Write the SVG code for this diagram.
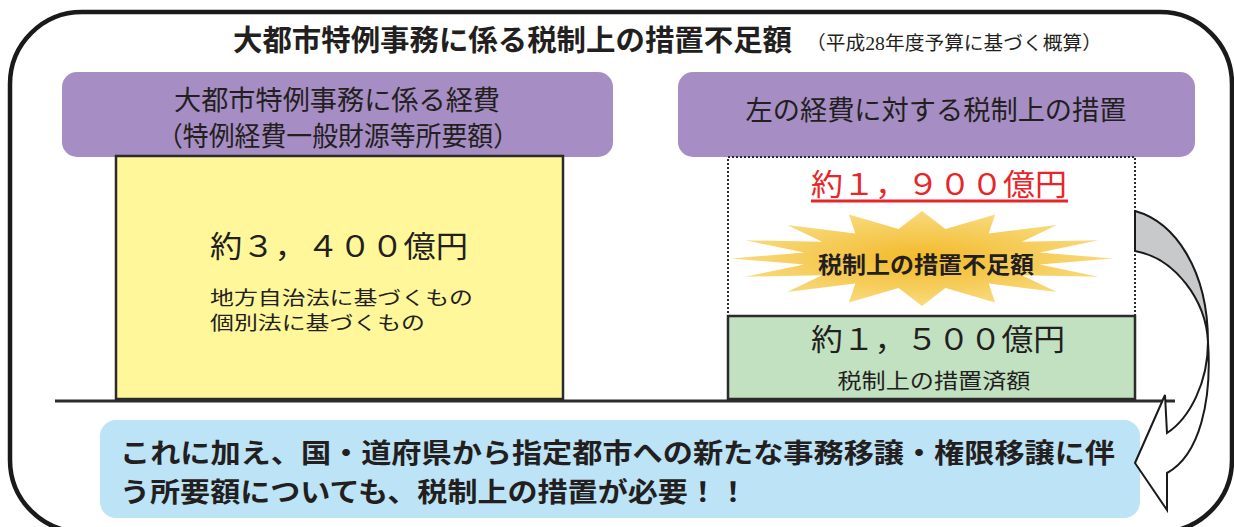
<svg xmlns="http://www.w3.org/2000/svg" width="1234" height="527" viewBox="0 0 1234 527">
<style>
  text { font-family: "Noto Sans CJK JP", "Noto Sans", sans-serif; fill: #231f20; }
  .hdr { fill: #a68dc4; }
  .hdrtxt { font-size: 27px; text-anchor: middle; }
  .box { stroke: #2b2b2b; stroke-width: 2.5; }
  .amt { font-size: 30px; }
  .bold { font-weight: 700; }
</style>
<defs>
  <radialGradient id="burst" cx="0.5" cy="0.5" r="0.5">
    <stop offset="0" stop-color="#f3b929"/>
    <stop offset="1" stop-color="#f8da7c"/>
  </radialGradient>
</defs>

<rect id="frame" x="10" y="12" width="1222" height="520" rx="72" ry="72" fill="#ffffff" stroke="#1a1a1a" stroke-width="4.5"/>

<g id="title">
  <text x="233" y="51" font-size="29" class="bold" textLength="559" lengthAdjust="spacingAndGlyphs">大都市特例事務に係る税制上の措置不足額</text>
  <text x="806" y="50" font-size="19" style="font-family:'Liberation Serif','Noto Sans CJK JP',serif" textLength="296" lengthAdjust="spacingAndGlyphs">（平成28年度予算に基づく概算）</text>
</g>

<g id="header-left">
  <rect class="hdr" x="62" y="72" width="551" height="85" rx="15"/>
  <text class="hdrtxt" x="337" y="110" textLength="326" lengthAdjust="spacingAndGlyphs">大都市特例事務に係る経費</text>
  <text class="hdrtxt" x="338" y="146" textLength="362" lengthAdjust="spacingAndGlyphs">（特例経費一般財源等所要額）</text>
</g>

<g id="header-right">
  <rect class="hdr" x="678" y="72" width="517" height="85" rx="15"/>
  <text class="hdrtxt" x="936" y="120" textLength="381" lengthAdjust="spacingAndGlyphs">左の経費に対する税制上の措置</text>
</g>

<g id="cost-box">
  <rect class="box" x="116" y="156" width="447" height="243" fill="#fff799"/>
  <text class="amt" x="210" y="257" textLength="258" lengthAdjust="spacingAndGlyphs">約３，４００億円</text>
  <text x="210" y="305" font-size="19" textLength="263" lengthAdjust="spacingAndGlyphs">地方自治法に基づくもの</text>
  <text x="210" y="330" font-size="19" textLength="215" lengthAdjust="spacingAndGlyphs">個別法に基づくもの</text>
</g>

<g id="shortfall-box">
  <rect x="728" y="157" width="407" height="159" fill="#ffffff" stroke="#2b2b2b" stroke-width="2" stroke-dasharray="2 2"/>
  <text class="amt" x="811" y="195" style="fill:#e8262a" textLength="256" lengthAdjust="spacingAndGlyphs">約１，９００億円</text>
  <rect x="811" y="199.5" width="257" height="3" fill="#e8262a"/>
  <polygon fill="url(#burst)" points="922,211 945.4,229.1 995.1,214.6 988.7,233.6 1057,224.9 1021.8,241.8 1098.5,240.3 1039.7,252.6 1113,258.5 1039.7,264.4 1098.5,276.7 1021.8,275.2 1057,292.1 988.7,283.4 995.1,302.4 945.4,287.9 922,306 898.6,287.9 848.9,302.4 855.3,283.4 787,292.1 822.2,275.2 745.5,276.7 804.3,264.4 731,258.5 804.3,252.6 745.5,240.3 822.2,241.8 787,224.9 855.3,233.6 848.9,214.6 898.6,229.1"/>
  <text x="926" y="273" font-size="23" class="bold" text-anchor="middle" textLength="216" lengthAdjust="spacingAndGlyphs">税制上の措置不足額</text>
</g>

<g id="done-box">
  <rect class="box" x="728" y="316" width="407" height="83" fill="#c1e1c1"/>
  <text class="amt" x="811" y="350" textLength="254" lengthAdjust="spacingAndGlyphs">約１，５００億円</text>
  <text x="934" y="388" font-size="21" text-anchor="middle" textLength="193" lengthAdjust="spacingAndGlyphs">税制上の措置済額</text>
</g>

<g id="note">
  <rect x="100" y="420" width="1040" height="98" rx="16" fill="#bde3f6"/>
  <text x="120" y="463" font-size="27" class="bold" textLength="995" lengthAdjust="spacingAndGlyphs">これに加え、国・道府県から指定都市への新たな事務移譲・権限移譲に伴</text>
  <text x="120" y="502" font-size="27" class="bold" textLength="628" lengthAdjust="spacingAndGlyphs">う所要額についても、税制上の措置が必要！！</text>
</g>

<g id="connectors">
  <line x1="55" y1="401" x2="1175" y2="401" stroke="#2b2b2b" stroke-width="3"/>
  <path d="M1135,211 C1175,222 1208,270 1208,342 C1206,300 1175,258 1135,251 Z" fill="#c8c9cb" stroke="#1a1a1a" stroke-width="2" stroke-linejoin="round"/>
  <path d="M1208,342 C1208,382 1190,418 1167,433 L1165,395 L1135,463 L1167,510 L1167,473 C1200,455 1212,400 1208,342 Z" fill="#ffffff" stroke="#1a1a1a" stroke-width="2" stroke-linejoin="miter"/>
</g>
</svg>
